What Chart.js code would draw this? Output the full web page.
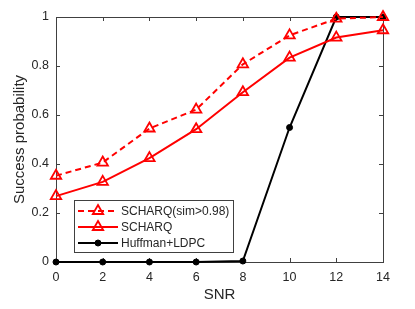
<!DOCTYPE html>
<html>
<head>
<meta charset="utf-8">
<script src="https://cdn.jsdelivr.net/npm/chart.js@4/dist/chart.umd.min.js"></script>
<style>
html,body{margin:0;padding:0;background:#fff;}
#wrap{width:415px;height:309px;position:relative;}
</style>
</head>
<body>
<div id="wrap"><canvas id="c" width="415" height="309"></canvas></div>
<script>
const snr = [0, 2, 4, 6, 8, 10, 12, 14];
const scharqSim = [0.352, 0.406, 0.545, 0.622, 0.807, 0.925, 0.993, 1.0];
const scharq = [0.269, 0.327, 0.424, 0.542, 0.693, 0.834, 0.916, 0.946];
const huffmanLdpc = [0, 0, 0, 0, 0.004, 0.549, 1.0, 1.0];
const seriesNames = ['SCHARQ(sim>0.98)', 'SCHARQ', 'Huffman+LDPC'];
const xTicks = [0, 2, 4, 6, 8, 10, 12, 14];
const yTicks = [0, 0.2, 0.4, 0.6, 0.8, 1];

const toPts = (ys) => snr.map((x, i) => ({x: x, y: ys[i]}));
const axisColor = '#404040';
const textColor = '#262626';
const FONT = 'Liberation Sans, Arial, Helvetica, sans-serif';

const boxPlugin = {
  id: 'box',
  beforeDatasetsDraw(chart) {
    const {ctx, chartArea: a, scales} = chart;
    ctx.save();
    ctx.strokeStyle = axisColor;
    ctx.lineWidth = 1;
    ctx.strokeRect(Math.round(a.left) + 0.5, Math.round(a.top) + 0.5, Math.round(a.right - a.left), Math.round(a.bottom - a.top));
    const tl = 4;
    ctx.beginPath();
    xTicks.forEach(v => {
      const x = Math.round(scales.x.getPixelForValue(v)) + 0.5;
      ctx.moveTo(x, a.bottom); ctx.lineTo(x, a.bottom - tl);
      ctx.moveTo(x, a.top); ctx.lineTo(x, a.top + tl);
    });
    yTicks.forEach(v => {
      const y = Math.round(scales.y.getPixelForValue(v)) + 0.5;
      ctx.moveTo(a.left, y); ctx.lineTo(a.left + tl, y);
      ctx.moveTo(a.right, y); ctx.lineTo(a.right - tl, y);
    });
    ctx.stroke();
    ctx.restore();
  }
};

const legendPlugin = {
  id: 'customLegend',
  afterDatasetsDraw(chart) {
    const {ctx} = chart;
    const bx = 74, by = 200, bw = 159, bh = 52;
    ctx.save();
    ctx.fillStyle = '#fff';
    ctx.fillRect(bx, by, bw, bh);
    ctx.strokeStyle = '#404040';
    ctx.lineWidth = 1;
    ctx.strokeRect(bx + 0.5, by + 0.5, bw, bh);
    const rows = [211, 227, 243];
    chart.data.datasets.forEach((ds, i) => {
      const y = rows[i];
      ctx.strokeStyle = ds.borderColor;
      ctx.lineWidth = ds.borderWidth;
      ctx.setLineDash(ds.borderDash || []);
      ctx.beginPath();
      ctx.moveTo(78, y); ctx.lineTo(118, y);
      ctx.stroke();
      ctx.setLineDash([]);
      ctx.fillStyle = ds.pointBackgroundColor;
      ctx.strokeStyle = ds.pointBorderColor;
      ctx.lineWidth = ds.pointBorderWidth;
      Chart.helpers.drawPoint(ctx, {pointStyle: ds.pointStyle, radius: ds.pointRadius, borderWidth: ds.pointBorderWidth}, 98, y);
      ctx.fillStyle = textColor;
      ctx.font = '12px ' + FONT;
      ctx.textBaseline = 'middle';
      ctx.textAlign = 'left';
      ctx.fillText(seriesNames[i], 121, y + 0.5);
    });
    ctx.restore();
  }
};

new Chart(document.getElementById('c'), {
  type: 'line',
  data: {
    datasets: [
      {
        label: seriesNames[0],
        data: toPts(scharqSim),
        borderColor: '#ff0000',
        borderWidth: 2,
        borderDash: [6, 4],
        pointStyle: 'triangle',
        pointRadius: 6,
        pointBorderWidth: 1.8,
        pointBackgroundColor: 'rgba(255,255,255,0)',
        pointBorderColor: '#ff0000',
        clip: false,
        tension: 0
      },
      {
        label: seriesNames[1],
        data: toPts(scharq),
        borderColor: '#ff0000',
        borderWidth: 2,
        pointStyle: 'triangle',
        pointRadius: 6,
        pointBorderWidth: 1.8,
        pointBackgroundColor: 'rgba(255,255,255,0)',
        pointBorderColor: '#ff0000',
        clip: false,
        tension: 0
      },
      {
        label: seriesNames[2],
        data: toPts(huffmanLdpc),
        borderColor: '#000000',
        borderWidth: 2,
        pointStyle: 'circle',
        pointRadius: 3,
        pointBorderWidth: 1,
        pointBackgroundColor: '#000000',
        pointBorderColor: '#000000',
        clip: false,
        tension: 0
      }
    ]
  },
  options: {
    responsive: false,
    animation: false,
    events: [],
    layout: {padding: {top: 17, right: 32, left: 0, bottom: 0}},
    plugins: {legend: {display: false}, tooltip: {enabled: false}},
    scales: {
      x: {
        type: 'linear',
        min: 0, max: 14,
        afterFit(s) { s.height = 47; },
        afterBuildTicks(s) { s.ticks = xTicks.map(v => ({value: v})); },
        grid: {display: false, drawTicks: false},
        border: {display: false},
        ticks: {color: textColor, font: {family: FONT, size: 12.5}, padding: 8, maxRotation: 0, autoSkip: false},
        title: {display: true, text: 'SNR', color: textColor, font: {family: FONT, size: 15}, padding: {top: 0, bottom: 5}}
      },
      y: {
        type: 'linear',
        min: 0, max: 1,
        afterFit(s) { s.width = 56; },
        afterBuildTicks(s) { s.ticks = yTicks.map(v => ({value: v})); },
        grid: {display: false, drawTicks: false},
        border: {display: false},
        ticks: {color: textColor, font: {family: FONT, size: 12.5}, padding: 7,
          callback: v => String(Math.round(v * 10) / 10)},
        title: {display: true, text: 'Success probability', color: textColor, font: {family: FONT, size: 15}, padding: {top: 11, bottom: 0}}
      }
    }
  },
  plugins: [boxPlugin, legendPlugin]
});
</script>
</body>
</html>
